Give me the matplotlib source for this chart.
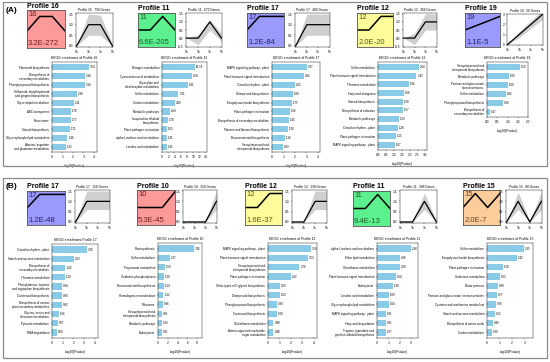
import matplotlib
matplotlib.use("Agg")
import matplotlib.pyplot as plt
from matplotlib.patches import Rectangle

plt.rcParams["font.family"] = ["Liberation Sans", "DejaVu Sans"]

W, H = 550, 362

# ---------------- data ----------------
TIMES = ["0h", "1h", "3h", "5h"]

A_PROFILES = ["16", "11", "17", "12", "19"]
A_PVALS = ["3.2E-272", "6.6E-205", "1.2E-84", "2.0E-20", "1.1E-5"]
A_GENES = [756, 673, 466, 366, 56]
B_PROFILES = ["17", "10", "12", "11", "15"]
B_PVALS = ["1.2E-48", "5.3E-45", "1.6E-37", "9.4E-13", "2.0E-7"]
B_GENES = [156, 316, 130, 308, 88]

# model profile patterns (STEM)
pat_16 = [0, 1, 1, 0]
pat_11 = [0, 0, 1, 0]
pat_17 = [0, 1, 1, 1]
pat_12 = [0, 0, 1, 1]
pat_19 = [0, 1, 2, 3]
pat_10 = [0, 0, 0, 1]
pat_15 = [0, 1, 0, 1]

# gene-level envelope (lower, upper)
band_a16 = ([0, 0.5, 0.5, 0], [0, 1.5, 1.45, 0.1])
band_a11 = ([0, -0.4, 0.5, -0.2], [0, 0.2, 1.15, 0.3])
band_a17 = ([0, 0.5, 0.5, 0.5], [0, 1.5, 1.5, 1.5])
band_a12 = ([0, -0.4, 0.5, 0.5], [0, 0.3, 1.5, 1.5])
band_a19 = ([0, 0.7, 1.6, 2.5], [0, 1.3, 2.4, 3.4])
band_b17 = ([0, 0.6, 0.6, 0.6], [0, 1.5, 1.5, 1.5])
band_b10 = ([0, 0, 0, 0.6], [0, 0, 0.05, 1.5])
band_b12 = ([0, 0, 0.6, 0.6], [0, 0.05, 1.5, 1.5])
band_b11 = ([0, 0, 0.6, 0], [0, 0.05, 1.4, 0.05])
band_b15 = ([0, 0.6, 0, 0.6], [0, 1.45, 0.05, 1.45])

# KEGG enrichment (-log10 P)
kegg_a16 = ["Flavonoid biosynthesis", "Biosynthesis of\nsecondary metabolites",
            "Phenylpropanoid biosynthesis", "Stilbenoid, diarylheptanoid\nand gingerol biosynthesis",
            "Glycerolipid metabolism", "ABC transporters", "Peroxisome", "Steroid biosynthesis",
            "Glycerophospholipid metabolism", "Alanine, aspartate\nand glutamate metabolism"]
val_a16 = [3.54, 3.18, 3.14, 2.38, 2.11, 1.78, 1.77, 1.71, 1.48, 1.32]

kegg_a11 = ["Nitrogen metabolism", "Cyanoamino acid metabolism", "Glyoxylate and\ndicarboxylate metabolism",
            "Sulfur metabolism", "Carbon metabolism", "Metabolic pathways",
            "Isoquinoline alkaloid\nbiosynthesis", "Plant-pathogen interaction",
            "alpha-Linolenic acid metabolism", "Linoleic acid metabolism"]
val_a11 = [10.74, 9.60, 8.31, 5.31, 4.08, 2.64, 1.78, 1.65, 1.45, 1.45]

kegg_a17 = ["MAPK signaling pathway - plant", "Plant hormone signal transduction",
            "Circadian rhythm - plant", "Diterpenoid biosynthesis", "Exopolysaccharide biosynthesis",
            "Plant-pathogen interaction", "Biosynthesis of secondary metabolites",
            "Flavone and flavonol biosynthesis", "Brassinosteroid biosynthesis",
            "Sesquiterpenoid and\ntriterpenoid biosynthesis"]
val_a17 = [3.07, 2.82, 2.02, 1.80, 1.75, 1.56, 1.45, 1.38, 1.16, 0.93]

kegg_a12 = ["Sulfur metabolism", "Plant hormone signal transduction", "Thiamine metabolism",
            "Fatty acid elongation", "Steroid biosynthesis", "Biosynthesis of cofactors",
            "Metabolic pathways", "Circadian rhythm - plant", "Plant-pathogen interaction",
            "MAPK signaling pathway - plant"]
val_a12 = [2.60, 2.43, 1.96, 1.66, 1.58, 1.57, 1.33, 1.28, 1.15, 1.07]

kegg_a19 = ["Sesquiterpenoid and\ntriterpenoid biosynthesis", "Metabolic pathways",
            "Pentose and glucuronate\ninterconversions", "Sulfur metabolism",
            "Phenylpropanoid biosynthesis", "Biosynthesis of\nsecondary metabolites"]
val_a19 = [1.59, 1.09, 1.00, 0.92, 0.80, 0.17]

kegg_b17 = ["Circadian rhythm - plant", "Starch and sucrose metabolism",
            "Biosynthesis of\nsecondary metabolites", "Thiamine metabolism",
            "Phenylalanine, tyrosine\nand tryptophan biosynthesis", "Carotenoid biosynthesis",
            "Biosynthesis of various\nplant secondary metabolites", "Glycine, serine and\nthreonine metabolism",
            "Pyruvate metabolism", "RNA degradation"]
val_b17 = [3.30, 2.03, 1.25, 1.19, 0.94, 0.90, 0.92, 0.66, 0.57, 0.50]

kegg_b10 = ["Photosynthesis", "Sulfur metabolism", "Propanoate metabolism",
            "Oxidative phosphorylation", "Brassinosteroid biosynthesis", "Homologous recombination",
            "Ribosome", "Sesquiterpenoid and\ntriterpenoid biosynthesis", "Metabolic pathways",
            "Endocytosis"]
val_b10 = [7.46, 2.37, 1.50, 1.30, 1.14, 1.12, 0.96, 0.91, 0.83, 0.81]

kegg_b12 = ["MAPK signaling pathway - plant", "Plant hormone signal transduction",
            "Sesquiterpenoid and\ntriterpenoid biosynthesis", "Plant-pathogen interaction",
            "Other types of O-glycan biosynthesis", "Diterpenoid biosynthesis",
            "Phenylpropanoid biosynthesis", "Carotenoid biosynthesis", "Glutathione metabolism",
            "Amino sugar and nucleotide\nsugar metabolism"]
val_b12 = [3.74, 3.53, 2.76, 2.02, 1.03, 1.03, 0.80, 0.80, 0.48, 0.48]

kegg_b11 = ["alpha-Linolenic acid metabolism", "Ether lipid metabolism", "Glutathione metabolism",
            "Plant hormone signal transduction", "Endocytosis", "Linoleic acid metabolism",
            "Glycerophospholipid metabolism", "MAPK signaling pathway - plant",
            "Fatty acid degradation", "Tropane, piperidine and\npyridine alkaloid biosynthesis"]
val_b11 = [2.98, 2.06, 2.00, 1.64, 1.38, 1.09, 1.04, 0.81, 0.81, 0.77]

kegg_b15 = ["Sulfur metabolism", "Exopolysaccharide biosynthesis", "Plant-pathogen interaction",
            "Galactose metabolism", "Motor proteins", "Pentose and glucuronate interconversions",
            "Cysteine and methionine metabolism", "Starch and sucrose metabolism",
            "Biosynthesis of amino acids", "Carbon metabolism"]
val_b15 = [2.95, 2.42, 1.30, 1.03, 0.90, 0.77, 0.76, 0.62, 0.49, 0.39]

# ---------------- helpers ----------------
fig = plt.figure(figsize=(W / 100, H / 100), dpi=100)


def rect(x0, y0, x1, y1):
    return [x0 / W, 1 - y1 / H, (x1 - x0) / W, (y1 - y0) / H]


def profile_box(box, num, pval, pattern, color, tcolor, base=0.5, amp=0.4):
    ax = fig.add_axes(rect(*box))
    ax.set_facecolor(color)
    top = max(pattern)
    ys = [base + amp * v / top for v in pattern]
    ax.plot([0, 1 / 3, 2 / 3, 1], ys, color="black", lw=1.1)
    ax.set_xlim(0, 1)
    ax.set_ylim(0, 1)
    ax.set_xticks([])
    ax.set_yticks([])
    for s in ax.spines.values():
        s.set_linewidth(0.6)
        s.set_color("#555555")
    ax.text(0.03, 0.97, num, transform=ax.transAxes, ha="left", va="top",
            fontsize=5.5, color=tcolor)
    ax.text(0.03, 0.02, pval, transform=ax.transAxes, ha="left", va="bottom",
            fontsize=5.5, color=tcolor)
    fig.text(box[0] / W, 1 - (box[1] - 0.5) / H, "Profile " + num, ha="left", va="bottom",
             fontsize=5, fontweight="bold")


def gene_chart(box, num, genes, pattern, band, yticks):
    ax = fig.add_axes(rect(*box))
    x = range(len(TIMES))
    lo, hi = band
    ax.fill_between(x, lo, hi, color="#cfcfcf", lw=0)
    ax.plot(x, pattern, color="black", lw=0.9)
    ax.set_xticks(list(x))
    ax.set_xticklabels(TIMES)
    ax.set_yticks(yticks)
    if max(yticks) >= 3:
        ax.set_yticklabels([str(t) for t in yticks])
    else:
        ax.set_yticklabels([f"{t:.1f}" for t in yticks])
    ax.set_xlim(-0.05, 3.05)
    ax.set_ylim(yticks[0] - 0.05, yticks[-1] + 0.05)
    ax.tick_params(labelsize=2.3, length=1, width=0.3, pad=1)
    for s in ax.spines.values():
        s.set_linewidth(0.3)
    ax.set_title(f"Profile {num} : {genes} Genes", fontsize=2.3, pad=1.5)


def kegg_chart(box, title, names, vals, xmax, xticks, fmt="{:g}"):
    ax = fig.add_axes(rect(*box))
    pos = list(range(len(names)))[::-1]
    ax.barh(pos, vals, height=0.7, color="#89cbe6")
    for p, v in zip(pos, vals):
        ax.text(v + xmax * 0.02, p, f"{v:.2f}", va="center", ha="left", fontsize=2.1)
    ax.set_yticks(pos)
    ax.set_yticklabels(names, fontsize=2.1, linespacing=1.0)
    ax.set_xlim(0, xmax)
    ax.set_ylim(-0.6, len(names) - 0.4)
    ax.set_xticks(xticks)
    ax.set_xticklabels([fmt.format(t) for t in xticks])
    ax.tick_params(axis="x", labelsize=2.3, length=1, width=0.3, pad=1)
    ax.tick_params(axis="y", length=1, width=0.3, pad=1)
    for s in ax.spines.values():
        s.set_linewidth(0.3)
    ax.set_title(title, fontsize=2.4, pad=2)
    ax.set_xlabel("-log10(Pvalue)", fontsize=2.3, labelpad=4)


# ---------------- panel frames ----------------
for y0, y1, lab in [(2, 166, "(A)"), (178, 358, "(B)")]:
    fig.patches.append(Rectangle((3 / W, 1 - y1 / H), 544 / W, (y1 - y0) / H,
                                 transform=fig.transFigure, fill=False,
                                 edgecolor="#8a8a8a", lw=0.9))
    fig.text(6 / W, 1 - (y0 + 5) / H, lab, ha="left", va="top", fontsize=6, fontweight="bold")

# ---------------- panel A ----------------
profile_box((27, 10, 65, 48), "16", A_PVALS[0], pat_16, "#fc9a9a", "#6b2020", base=0.45, amp=0.38)
profile_box((138, 13, 175, 47), "11", A_PVALS[1], pat_11, "#5cf08e", "#1d5a2c")
profile_box((247, 13, 284, 47), "17", A_PVALS[2], pat_17, "#9a9afc", "#23236b")
profile_box((357, 13, 393, 47), "12", A_PVALS[3], pat_12, "#fcfc9a", "#5a5a18")
profile_box((465, 13, 500, 47), "19", A_PVALS[4], pat_19, "#9a9afc", "#23236b")

gene_chart((76, 13, 113, 47), "16", A_GENES[0], pat_16, band_a16, [0.0, 0.5, 1.0, 1.5])
gene_chart((186, 13, 222, 47), "11", A_GENES[1], pat_11, band_a11, [-0.5, 0.0, 0.5, 1.0, 1.5])
gene_chart((295, 13, 330, 47), "17", A_GENES[2], pat_17, band_a17, [0.0, 0.5, 1.0, 1.5])
gene_chart((403, 13, 437, 47), "12", A_GENES[3], pat_12, band_a12, [-0.5, 0.0, 0.5, 1.0, 1.5])
gene_chart((507, 14, 543, 45), "19", A_GENES[4], pat_19, band_a19, [0, 1, 2, 3])

kegg_chart((52, 62, 97, 152), "KEGG enrichment of Profile 16", kegg_a16, val_a16, 4.3, [0, 1, 2, 3, 4])
kegg_chart((162, 62, 207, 152), "KEGG enrichment of Profile 11", kegg_a11, val_a11, 14.5,
           [0, 2, 4, 6, 8, 10, 12, 14])
kegg_chart((272, 62, 320, 152), "KEGG enrichment of Profile 17", kegg_a17, val_a17, 4.2, [0, 1, 2, 3, 4])
kegg_chart((378, 62, 427, 150), "KEGG enrichment of Profile 12", kegg_a12, val_a12, 3.1,
           [0.0, 0.5, 1.0, 1.5, 2.0, 2.5, 3.0], fmt="{:.1f}")
kegg_chart((487, 62, 528, 117), "KEGG enrichment of Profile 19", kegg_a19, val_a19, 2.0,
           [0.0, 0.5, 1.0, 1.5, 2.0], fmt="{:.1f}")

# ---------------- panel B ----------------
profile_box((27, 191, 65, 225), "17", B_PVALS[0], pat_17, "#9a9afc", "#23236b")
profile_box((137, 190, 175, 225), "10", B_PVALS[1], pat_10, "#fc9a9a", "#6b2020", base=0.5, amp=0.45)
profile_box((245, 190, 282, 225), "12", B_PVALS[2], pat_12, "#fcfc9a", "#5a5a18")
profile_box((353, 191, 390, 226), "11", B_PVALS[3], pat_11, "#5cf08e", "#1d5a2c")
profile_box((463, 190, 500, 225), "15", B_PVALS[4], pat_15, "#fccc9a", "#6b4420")

gene_chart((75, 190, 110, 223), "17", B_GENES[0], pat_17, band_b17, [0.0, 0.5, 1.0, 1.5])
gene_chart((183, 190, 217, 223), "10", B_GENES[1], pat_10, band_b10, [0.0, 0.5, 1.0, 1.5])
gene_chart((292, 190, 327, 223), "12", B_GENES[2], pat_12, band_b12, [0.0, 0.5, 1.0, 1.5])
gene_chart((400, 190, 437, 223), "11", B_GENES[3], pat_11, band_b11, [0.0, 0.5, 1.0, 1.5])
gene_chart((506, 190, 542, 223), "15", B_GENES[4], pat_15, band_b15, [0.0, 0.5, 1.0, 1.5])

kegg_chart((52, 244, 98, 338), "KEGG enrichment Profile 17", kegg_b17, val_b17, 4.3, [0, 1, 2, 3, 4])
kegg_chart((158, 243, 202, 338), "KEGG enrichment of Profile 10", kegg_b10, val_b10, 9.0, [0, 2, 4, 6, 8])
kegg_chart((268, 243, 317, 338), "KEGG enrichment of Profile 12", kegg_b12, val_b12, 4.3, [0, 1, 2, 3, 4])
kegg_chart((377, 243, 418, 338), "KEGG enrichment of Profile 11", kegg_b11, val_b11, 3.6, [0, 1, 2, 3])
kegg_chart((487, 243, 533, 338), "KEGG enrichment of Profile 15", kegg_b15, val_b15, 3.7, [0, 1, 2, 3])

fig.savefig("out.png", dpi=100)
